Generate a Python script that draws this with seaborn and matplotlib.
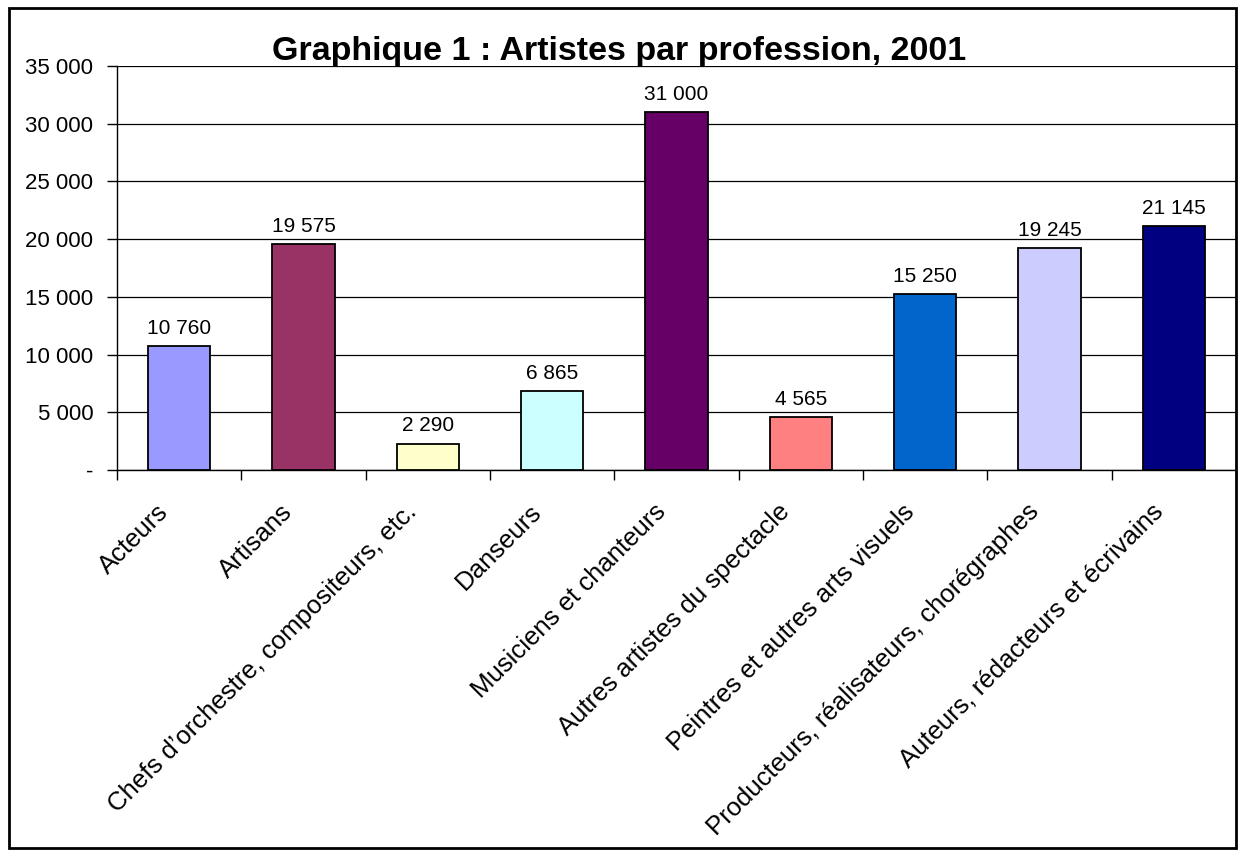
import pandas as pd
import matplotlib.pyplot as plt
import matplotlib.ticker as mticker
import matplotlib.transforms as mtransforms
from matplotlib.patches import Rectangle
import seaborn as sns

# Data
professions = [
    'Acteurs',
    'Artisans',
    "Chefs d\u2019orchestre, compositeurs, etc.",
    'Danseurs',
    'Musiciens et chanteurs',
    'Autres artistes du spectacle',
    'Peintres et autres arts visuels',
    'Producteurs, réalisateurs, chorégraphes',
    'Auteurs, rédacteurs et écrivains',
]
counts = [10760, 19575, 2290, 6865, 31000, 4565, 15250, 19245, 21145]
bar_colors = ['#9999FF', '#993366', '#FFFFCC', '#CCFFFF', '#660066',
              '#FF8080', '#0066CC', '#CCCCFF', '#000080']

df = pd.DataFrame({'Profession': professions, 'Artistes': counts})

sns.set_style('white')
plt.rcParams['font.family'] = ['Liberation Sans', 'DejaVu Sans']
plt.rcParams['text.color'] = 'black'
plt.rcParams['xtick.color'] = 'black'
plt.rcParams['ytick.color'] = 'black'

fig = plt.figure(figsize=(12.44, 8.56), dpi=100)
ax = fig.add_axes([0.094, 0.451, 0.8996, 0.472])

sns.barplot(data=df, x='Profession', y='Artistes', hue='Profession',
            palette=bar_colors, legend=False, width=0.5, saturation=1,
            edgecolor='black', linewidth=1.3, ax=ax, zorder=3)

def fmt(v):
    return f'{int(v):,}'.replace(',', ' ')

# Value labels
for i, v in enumerate(counts):
    ax.text(i, v + 700, fmt(v), ha='center', va='bottom', fontsize=15)

ax.set_ylim(0, 35000)
ax.set_xlim(-0.5, len(professions) - 0.5)
ax.yaxis.set_major_locator(mticker.MultipleLocator(5000))
ax.yaxis.set_major_formatter(mticker.FuncFormatter(lambda v, p: '-' if v == 0 else fmt(v)))
ax.yaxis.grid(True, color='black', linewidth=0.9, zorder=0)
ax.set_axisbelow(True)

# ticks at category boundaries
ax.set_xticks([i + 0.5 for i in range(-1, len(professions))], minor=True)
ax.tick_params(axis='x', which='minor', bottom=True, length=7, width=1,
               direction='out', color='black')
ax.set_xticks(range(len(professions)))
ax.set_xticklabels(professions, rotation=45, ha='right', va='baseline',
                   rotation_mode='anchor', fontsize=18.5)
ax.tick_params(axis='x', which='major', length=0, pad=31)
ax.tick_params(axis='y', left=True, length=7, width=1, direction='out', color='black',
               labelsize=16, pad=10)

# nudge rotated labels a little to the left
shift = mtransforms.ScaledTranslation(-7 / 72, 0, fig.dpi_scale_trans)
for lbl in ax.get_xticklabels():
    lbl.set_transform(lbl.get_transform() + shift)

for s in ['top', 'right']:
    ax.spines[s].set_visible(False)
for s in ['left', 'bottom']:
    ax.spines[s].set_color('black')
    ax.spines[s].set_linewidth(1.0)

ax.set_xlabel('')
ax.set_ylabel('')
fig.text(0.498, 0.94, 'Graphique 1 : Artistes par profession, 2001', fontsize=24.5,
         fontweight='bold', ha='center', va='center')

# outer frame
fig.patches.append(Rectangle((0.0072, 0.0093), 0.9864, 0.981, transform=fig.transFigure,
                             fill=False, edgecolor='black', linewidth=2))

fig.savefig('out.png', dpi=100)
